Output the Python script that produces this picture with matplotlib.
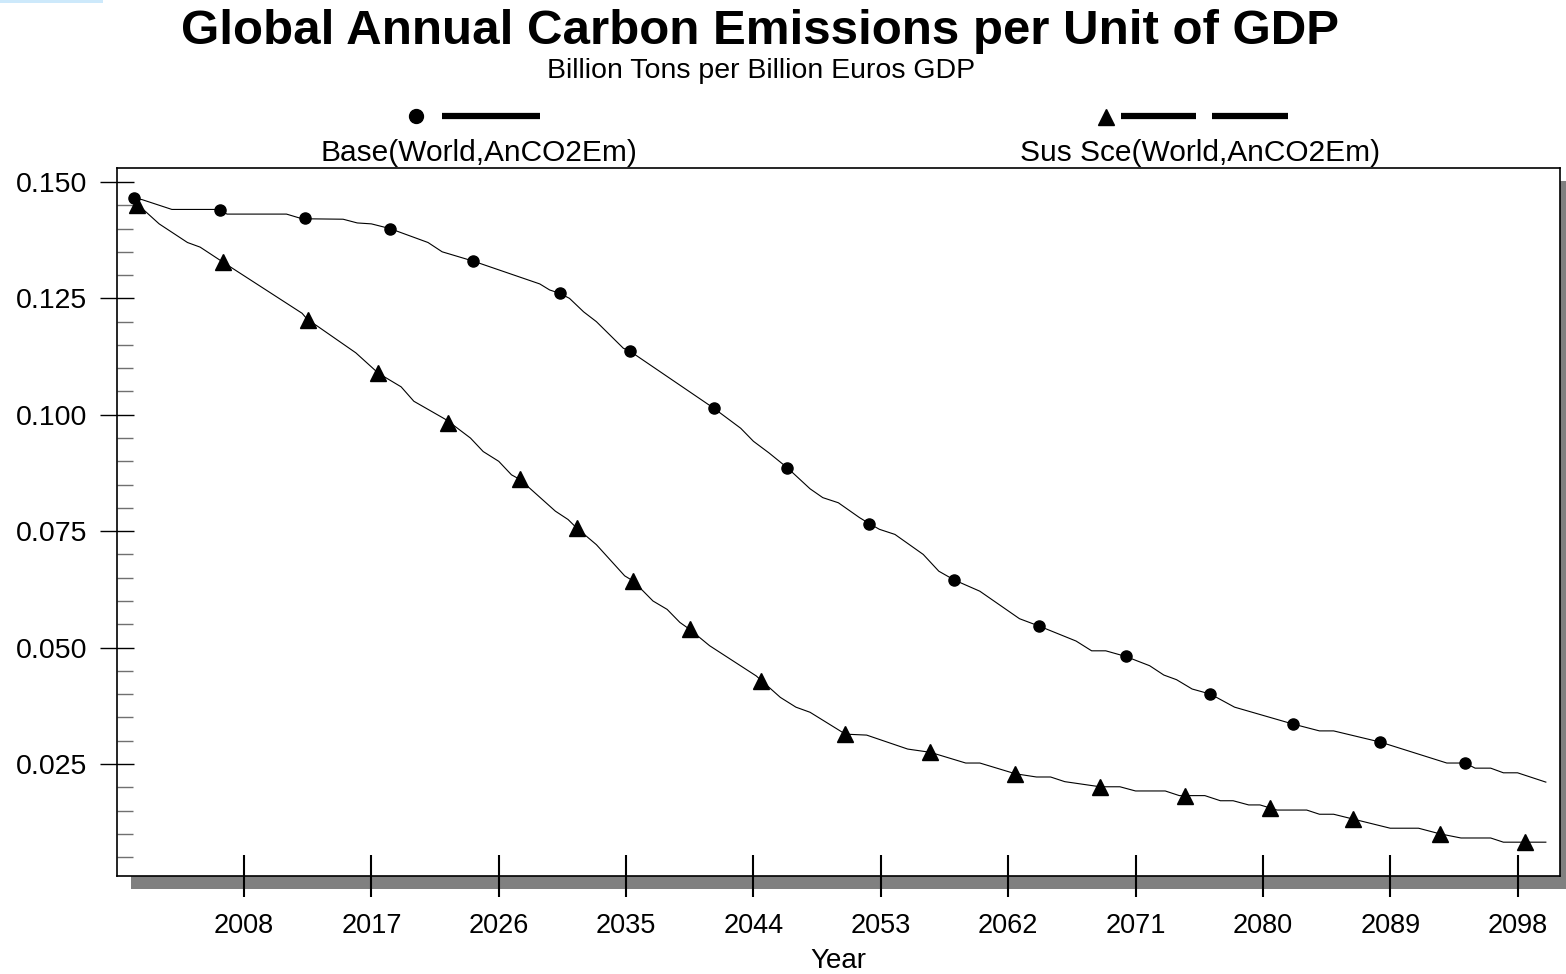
import matplotlib
matplotlib.use('Agg')
import matplotlib.pyplot as plt
from matplotlib.patches import Rectangle
from matplotlib.ticker import FixedLocator, MultipleLocator

# values (year, billion tons per billion euros GDP)
base_years = [2000.2, 2000.8, 2002.9, 2006.1, 2006.8, 2011.0, 2012.1, 2015.0, 2016.0, 2017.0,
              2018.3, 2021.0, 2022.0, 2024.2, 2028.9, 2029.6, 2030.3, 2031.0, 2032.0, 2032.9,
              2034.8, 2035.3, 2041.2, 2043.1, 2044.0, 2045.1, 2046.4, 2048.0, 2048.9, 2050.0,
              2051.5, 2052.2, 2052.9, 2054.0, 2056.0, 2057.1, 2058.2, 2060.0, 2062.8, 2064.2,
              2066.8, 2067.9, 2068.9, 2070.3, 2072.0, 2073.0, 2073.9, 2075.0, 2076.3, 2078.0,
              2082.1, 2084.0, 2085.0, 2088.3, 2093.0, 2094.3, 2095.0, 2096.1, 2097.0, 2098.0,
              2100.0]
base_vals = [0.1466, 0.1462, 0.1441, 0.1441, 0.1431, 0.1431, 0.1421, 0.1420, 0.1412, 0.1410,
             0.1400, 0.1370, 0.1350, 0.1330, 0.1281, 0.1268, 0.1261, 0.1250, 0.1221, 0.1200,
             0.1143, 0.1136, 0.1014, 0.0971, 0.0943, 0.0918, 0.0886, 0.0841, 0.0822, 0.0811,
             0.0779, 0.0766, 0.0754, 0.0743, 0.0700, 0.0664, 0.0645, 0.0621, 0.0562, 0.0546,
             0.0514, 0.0493, 0.0493, 0.0481, 0.0461, 0.0441, 0.0431, 0.0411, 0.0400, 0.0372,
             0.0336, 0.0321, 0.0321, 0.0297, 0.0252, 0.0252, 0.0241, 0.0241, 0.0231, 0.0231,
             0.0211]
base_mark_years = [2000.2, 2006.3, 2012.3, 2018.3, 2024.2, 2030.3, 2035.3, 2041.2, 2046.4,
                   2052.2, 2058.2, 2064.2, 2070.3, 2076.3, 2082.1, 2088.3, 2094.3]
base_mark_vals = [0.1466, 0.1440, 0.1423, 0.1400, 0.1330, 0.1261, 0.1136, 0.1014, 0.0886,
                  0.0766, 0.0645, 0.0546, 0.0481, 0.0400, 0.0336, 0.0297, 0.0252]

sus_years = [2000.4, 2002.0, 2004.0, 2004.9, 2006.5, 2012.1, 2012.5, 2013.2, 2015.9, 2017.5,
             2019.1, 2020.0, 2022.3, 2024.0, 2024.9, 2026.0, 2026.9, 2027.5, 2030.0, 2030.9,
             2031.5, 2032.9, 2034.9, 2035.5, 2036.9, 2037.9, 2038.8, 2039.5, 2040.9, 2044.2,
             2045.9, 2047.0, 2048.0, 2050.5, 2052.0, 2054.9, 2056.5, 2059.0, 2060.0, 2062.5,
             2064.0, 2065.0, 2066.0, 2068.5, 2069.9, 2071.0, 2073.1, 2074.1, 2075.9, 2077.0,
             2077.9, 2079.0, 2079.8, 2081.0, 2083.1, 2084.0, 2085.0, 2089.0, 2091.0, 2092.5,
             2094.0, 2096.1, 2097.0, 2100.0]
sus_vals = [0.1454, 0.1410, 0.1370, 0.1360, 0.1328, 0.1218, 0.1204, 0.1190, 0.1133, 0.1089,
            0.1060, 0.1029, 0.0989, 0.0950, 0.0921, 0.0900, 0.0871, 0.0861, 0.0793, 0.0775,
            0.0757, 0.0721, 0.0654, 0.0643, 0.0600, 0.0582, 0.0554, 0.0539, 0.0504, 0.0439,
            0.0393, 0.0372, 0.0361, 0.0314, 0.0312, 0.0282, 0.0275, 0.0252, 0.0252, 0.0229,
            0.0222, 0.0222, 0.0212, 0.0201, 0.0201, 0.0192, 0.0192, 0.0182, 0.0182, 0.0171,
            0.0171, 0.0162, 0.0162, 0.0151, 0.0151, 0.0142, 0.0142, 0.0112, 0.0112, 0.0100,
            0.0091, 0.0091, 0.0082, 0.0082]
sus_mark_years = [2000.4, 2006.5, 2012.5, 2017.5, 2022.4, 2027.5, 2031.5, 2035.5, 2039.5,
                  2044.5, 2050.5, 2056.5, 2062.5, 2068.5, 2074.5, 2080.5, 2086.4, 2092.5, 2098.5]
sus_mark_vals = [0.1450, 0.1328, 0.1204, 0.1089, 0.0982, 0.0861, 0.0757, 0.0643, 0.0539,
                 0.0428, 0.0314, 0.0275, 0.0229, 0.0201, 0.0182, 0.0155, 0.0132, 0.0100, 0.0082]

x_ticks = [2008, 2017, 2026, 2035, 2044, 2053, 2062, 2071, 2080, 2089, 2098]
y_ticks = [0.025, 0.050, 0.075, 0.100, 0.125, 0.150]
y_labels = ['0.025', '0.050', '0.075', '0.100', '0.125', '0.150']

W, H = 1566, 974
plt.rcParams['font.family'] = ['Liberation Sans', 'DejaVu Sans']

fig = plt.figure(figsize=(W / 100, H / 100), dpi=100)

# axes box in pixels: left 116.7, right 1560, top 168, bottom 875.7
ax_l, ax_b = 116.7 / W, 1 - 875.7 / H
ax_w, ax_h = (1560 - 116.7) / W, (875.7 - 168) / H
ax = fig.add_axes([ax_l, ax_b, ax_w, ax_h])

# drop shadow behind the plot box
shadow = Rectangle((ax_l + 14 / W, ax_b - 13 / H), ax_w, ax_h, transform=fig.transFigure,
                   facecolor='#808080', edgecolor='none', zorder=-1)
fig.patches.append(shadow)
# small light blue strip in the top-left corner
fig.patches.append(Rectangle((0, 1 - 3 / H), 103 / W, 3 / H, transform=fig.transFigure,
                             facecolor='#cde9fb', edgecolor='none', zorder=-1))

ax.plot(base_years, base_vals, color='black', lw=0.8)
ax.plot(base_mark_years, base_mark_vals, 'o', color='black', ms=8)
ax.plot(sus_years, sus_vals, color='black', lw=0.8)
ax.plot(sus_mark_years, sus_mark_vals, '^', color='black', ms=11)

ax.set_xlim(1999, 2101)
ax.set_ylim(0.001, 0.153)
ax.set_xticks(x_ticks)
ax.set_xticklabels([str(t) for t in x_ticks])
ax.yaxis.set_major_locator(FixedLocator(y_ticks))
ax.set_yticklabels(y_labels)
ax.yaxis.set_minor_locator(MultipleLocator(0.005))

ax.tick_params(axis='x', which='major', direction='inout', length=30, width=1.5, pad=12, labelsize=19.5)
ax.tick_params(axis='x', which='minor', bottom=False)
ax.tick_params(axis='y', which='major', direction='inout', length=24, width=1, pad=9, labelsize=20.5)
ax.tick_params(axis='y', which='minor', direction='in', length=11.5, width=1, color='#707070')
for s in ax.spines.values():
    s.set_linewidth(1.2)
    s.set_color('black')

fig.text(838.5 / W, 1 - 968 / H, 'Year', ha='center', va='baseline', fontsize=20)
fig.text(760 / W, 1 - 44 / H, 'Global Annual Carbon Emissions per Unit of GDP',
         ha='center', va='baseline', fontsize=35.5, fontweight='bold')
fig.text(761 / W, 1 - 78 / H, 'Billion Tons per Billion Euros GDP',
         ha='center', va='baseline', fontsize=20.5)

# hand-drawn legend above the plot, in pixel coordinates
lax = fig.add_axes([0, 0, 1, 1], zorder=2)
lax.set_xlim(0, W)
lax.set_ylim(H, 0)
lax.axis('off')
lax.plot([416], [116], 'o', color='black', ms=10)
lax.plot([442, 540], [116, 116], color='black', lw=4.5, solid_capstyle='butt')
lax.text(478.5, 161, 'Base(World,AnCO2Em)', ha='center', va='baseline', fontsize=21.5)
lax.plot([1106], [117], '^', color='black', ms=12)
lax.plot([1121, 1196], [116, 116], color='black', lw=4.5, solid_capstyle='butt')
lax.plot([1212, 1288], [116, 116], color='black', lw=4.5, solid_capstyle='butt')
lax.text(1200, 161, 'Sus Sce(World,AnCO2Em)', ha='center', va='baseline', fontsize=21.5)

fig.savefig('out.png', dpi=100)
